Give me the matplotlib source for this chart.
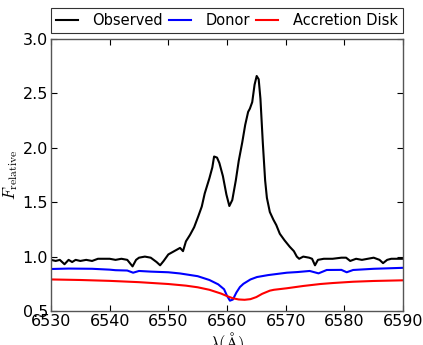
import matplotlib
matplotlib.use("Agg")
import matplotlib.pyplot as plt

plt.rcParams['mathtext.fontset'] = 'cm'
plt.rcParams['font.family'] = ['DejaVu Sans']

obs_wl = [6530.0, 6530.8, 6531.5, 6532.3, 6533.0, 6533.6, 6534.2, 6535.0, 6536.0, 6537.0,
          6538.0, 6539.0, 6540.0, 6541.0, 6542.0, 6543.0, 6543.9, 6544.5, 6545.0, 6546.0,
          6547.0, 6547.5, 6548.0, 6548.6, 6549.2, 6550.0, 6551.0, 6552.0, 6552.5, 6553.0,
          6553.7, 6554.4, 6555.1, 6555.7, 6556.2, 6557.0, 6557.5, 6557.8, 6558.3, 6558.7,
          6559.3, 6559.9, 6560.4, 6560.9, 6561.5, 6562.0, 6562.6, 6563.1, 6563.6, 6563.9,
          6564.3, 6564.7, 6565.06, 6565.4, 6565.7, 6566.1, 6566.5, 6566.8, 6567.3, 6567.9,
          6568.4, 6569.0, 6569.8, 6570.7, 6571.4, 6571.9, 6572.3, 6573.0, 6574.0, 6574.5,
          6575.0, 6575.5, 6576.5, 6578.0, 6579.5, 6580.3, 6581.0, 6582.0, 6583.0, 6584.0,
          6585.0, 6586.0, 6586.6, 6587.3, 6588.0, 6589.0, 6590.0]
obs_flux = [0.97, 0.96, 0.97, 0.93, 0.97, 0.95, 0.97, 0.96, 0.97, 0.96,
            0.98, 0.98, 0.98, 0.97, 0.98, 0.97, 0.91, 0.97, 0.99, 1.00,
            0.99, 0.97, 0.95, 0.92, 0.96, 1.02, 1.05, 1.08, 1.05, 1.14,
            1.20, 1.27, 1.37, 1.46, 1.58, 1.72, 1.82, 1.92, 1.91, 1.86,
            1.74, 1.57, 1.465, 1.52, 1.70, 1.88, 2.05, 2.21, 2.33, 2.36,
            2.42, 2.58, 2.66, 2.63, 2.45, 2.05, 1.70, 1.54, 1.41, 1.34,
            1.29, 1.21, 1.15, 1.09, 1.05, 1.00, 0.98, 1.00, 0.99, 0.98,
            0.92, 0.97, 0.98, 0.98, 0.99, 0.99, 0.96, 0.98, 0.97, 0.98,
            0.99, 0.97, 0.94, 0.97, 0.98, 0.98, 0.98]

donor_wl = [6530.0, 6533.0, 6537.0, 6540.0, 6541.0, 6543.0, 6544.0, 6545.0, 6547.0, 6550.0,
            6552.0, 6555.0, 6557.0, 6558.5, 6559.5, 6560.0, 6560.5, 6561.0, 6561.6, 6562.2,
            6562.8, 6564.0, 6565.1, 6567.0, 6570.2, 6572.0, 6574.1, 6575.6, 6577.0, 6579.5,
            6580.4, 6581.5, 6585.0, 6589.5, 6590.0]
donor_flux = [0.886, 0.89, 0.888, 0.88, 0.875, 0.872, 0.852, 0.868, 0.862, 0.856,
              0.845, 0.82, 0.785, 0.745, 0.70, 0.64, 0.595, 0.605, 0.67, 0.72,
              0.75, 0.79, 0.812, 0.83, 0.852, 0.858, 0.868, 0.846, 0.877, 0.878,
              0.856, 0.877, 0.888, 0.896, 0.897]

disk_wl = [6530.0, 6535.0, 6540.0, 6545.0, 6550.0, 6553.0, 6555.0, 6557.0, 6559.0, 6560.0,
           6561.0, 6562.0, 6563.0, 6564.0, 6565.0, 6566.0, 6567.3, 6568.0, 6570.2, 6573.0,
           6575.9, 6578.0, 6581.5, 6585.0, 6590.0]
disk_flux = [0.79, 0.785, 0.777, 0.765, 0.748, 0.733, 0.718, 0.695, 0.66, 0.637,
             0.617, 0.606, 0.603, 0.609, 0.628, 0.658, 0.687, 0.695, 0.709, 0.73,
             0.748, 0.757, 0.769, 0.776, 0.782]

labels = ["Observed", "Donor", "Accretion Disk"]
colors = ["black", "blue", "red"]

fig = plt.figure(figsize=(4.23, 3.45), dpi=100)
ax = fig.add_axes([51/423, 34/345, 352/423, 272/345])

ax.plot(obs_wl, obs_flux, color=colors[0], lw=1.5, label=labels[0])
ax.plot(donor_wl, donor_flux, color=colors[1], lw=1.5, label=labels[1])
ax.plot(disk_wl, disk_flux, color=colors[2], lw=1.5, label=labels[2])

ax.set_xlim(6530, 6590)
ax.set_ylim(0.5, 3.0)
ax.set_xticks([6530, 6540, 6550, 6560, 6570, 6580, 6590])
ax.set_yticks([0.5, 1.0, 1.5, 2.0, 2.5, 3.0])
ax.tick_params(direction='in', top=True, right=True, labelsize=11.5, length=4, pad=2)
for s in ax.spines.values():
    s.set_linewidth(1.0)
    s.set_color('#555555')

ax.set_xlabel(r'$\lambda(\mathrm{\AA})$', fontsize=12, labelpad=1)
ax.set_ylabel(r'$F_{\rm relative}$', fontsize=12, labelpad=2)

leg = ax.legend(bbox_to_anchor=(0., 1.022, 1., .092), loc='lower left', ncol=3,
                mode='expand', borderaxespad=0., fontsize=10.5, fancybox=False,
                handlelength=1.5, handletextpad=1.0, columnspacing=0.5,
                borderpad=0.35)
leg.get_frame().set_edgecolor('black')
leg.get_frame().set_linewidth(0.8)

fig.savefig("out.png", dpi=100)
